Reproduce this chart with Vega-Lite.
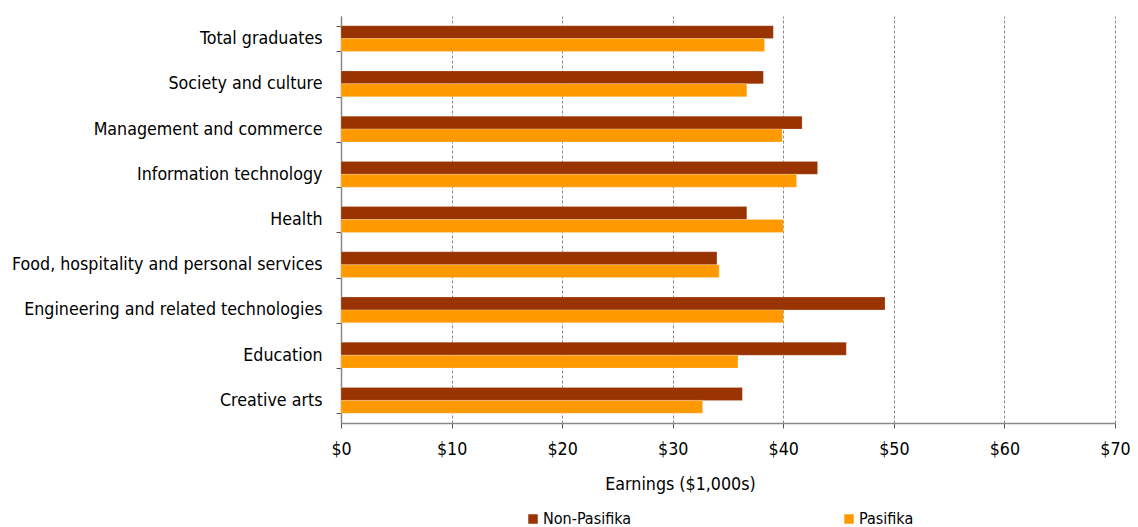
{
  "$schema": "https://vega.github.io/schema/vega-lite/v6.json",
  "autosize": {"type": "none"},
  "width": 774,
  "height": 407,
  "padding": {"left": 341, "top": 16, "right": 23, "bottom": 104},
  "background": "white",
  "config": {
    "view": {"stroke": null},
    "font": "Liberation Sans Narrow, Arial Narrow, DejaVu Sans Condensed, sans-serif",
    "axis": {"labelFont": "Liberation Sans Narrow, Arial Narrow, DejaVu Sans Condensed, sans-serif", "titleFont": "Liberation Sans Narrow, Arial Narrow, DejaVu Sans Condensed, sans-serif", "labelColor": "#000", "titleColor": "#000", "titleFontWeight": "normal"},
    "legend": {"labelFont": "Liberation Sans Narrow, Arial Narrow, DejaVu Sans Condensed, sans-serif"}
  },
  "data": {
    "values": [
      {"field": "Total graduates", "group": "Non-Pasifika", "earnings": 39.1},
      {"field": "Total graduates", "group": "Pasifika", "earnings": 38.3},
      {"field": "Society and culture", "group": "Non-Pasifika", "earnings": 38.2},
      {"field": "Society and culture", "group": "Pasifika", "earnings": 36.7},
      {"field": "Management and commerce", "group": "Non-Pasifika", "earnings": 41.7},
      {"field": "Management and commerce", "group": "Pasifika", "earnings": 39.9},
      {"field": "Information technology", "group": "Non-Pasifika", "earnings": 43.1},
      {"field": "Information technology", "group": "Pasifika", "earnings": 41.2},
      {"field": "Health", "group": "Non-Pasifika", "earnings": 36.7},
      {"field": "Health", "group": "Pasifika", "earnings": 40.0},
      {"field": "Food, hospitality and personal services", "group": "Non-Pasifika", "earnings": 34.0},
      {"field": "Food, hospitality and personal services", "group": "Pasifika", "earnings": 34.2},
      {"field": "Engineering and related technologies", "group": "Non-Pasifika", "earnings": 49.2},
      {"field": "Engineering and related technologies", "group": "Pasifika", "earnings": 40.0},
      {"field": "Education", "group": "Non-Pasifika", "earnings": 45.7},
      {"field": "Education", "group": "Pasifika", "earnings": 35.9},
      {"field": "Creative arts", "group": "Non-Pasifika", "earnings": 36.3},
      {"field": "Creative arts", "group": "Pasifika", "earnings": 32.7}
    ]
  },
  "mark": {"type": "bar", "stroke": "#ffffff", "strokeOpacity": 0.4, "strokeWidth": 0.5},
  "encoding": {
    "y": {
      "field": "field", "type": "nominal", "sort": null, "title": null,
      "scale": {"paddingInner": 0.43, "paddingOuter": 0.215},
      "axis": {"tickBand": "extent", "tickSize": 5, "tickColor": "#555", "domainColor": "#888", "domainWidth": 1.5, "labelFontSize": 17.7, "labelPadding": 14, "labelLimit": 400}
    },
    "yOffset": {"field": "group", "sort": ["Non-Pasifika", "Pasifika"]},
    "x": {
      "field": "earnings", "type": "quantitative",
      "title": "Earnings ($1,000s)",
      "scale": {"domain": [0, 70], "nice": false},
      "axis": {"values": [0, 10, 20, 30, 40, 50, 60, 70], "format": "$d", "labelFlush": false, "labelFontSize": 17.7, "labelPadding": 12, "tickSize": 5, "tickColor": "#555", "domainColor": "#888", "domainWidth": 1.5, "gridColor": "#888", "gridDash": [3, 2], "gridWidth": 1, "titleFontSize": 17.7, "titleX": 339, "titleY": 61, "titleBaseline": "middle", "titleAlign": "center"}
    },
    "color": {
      "field": "group", "type": "nominal", "title": null,
      "scale": {"domain": ["Non-Pasifika", "Pasifika"], "range": ["#993300", "#FF9900"]},
      "legend": {"orient": "none", "legendX": 184, "legendY": 495, "direction": "horizontal", "symbolType": "square", "symbolSize": 90, "symbolStrokeWidth": 0, "labelFontSize": 16, "columnPadding": 209, "labelOffset": 2}
    }
  }
}
